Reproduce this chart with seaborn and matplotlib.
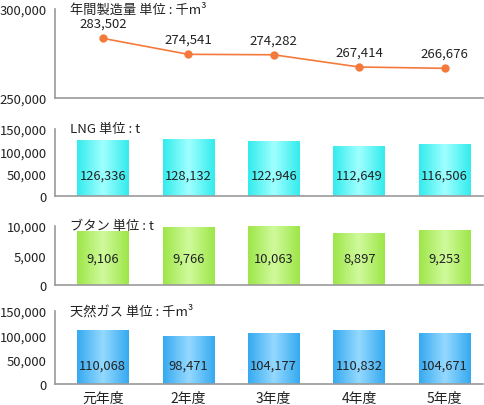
import numpy as np
import pandas as pd
import matplotlib
matplotlib.use("Agg")
import matplotlib.pyplot as plt
import matplotlib.ticker as mticker
from matplotlib.colors import LinearSegmentedColormap
import seaborn as sns

sns.set_style("white")
plt.rcParams["font.family"] = ["Noto Sans CJK JP", "DejaVu Sans"]

# ── DATA ──────────────────────────────────────────────────────
years      = ["元年度", "2年度", "3年度", "4年度", "5年度"]
production = [283502, 274541, 274282, 267414, 266676]
lng        = [126336, 128132, 122946, 112649, 116506]
butane     = [9106, 9766, 10063, 8897, 9253]
natgas     = [110068, 98471, 104177, 110832, 104671]

titles = ["年間製造量 単位 : 千m³", "LNG 単位 : t", "ブタン 単位 : t", "天然ガス 単位 : 千m³"]

SPINE = "#9a9a9a"
TEXT = "#222222"
XMIN, XMAX = -0.56, 4.45

fig = plt.figure(figsize=(4.85, 4.06), dpi=100)
L, W = 55 / 485, (483 - 55) / 485
def box(top, bot):
    return [L, 1 - bot / 406, W, (bot - top) / 406]

ax_line = fig.add_axes(box(10, 99))
ax_lng  = fig.add_axes(box(130, 197))
ax_but  = fig.add_axes(box(227, 286))
ax_gas  = fig.add_axes(box(312, 385))


def style_axis(ax, ylim, yticks, title):
    ax.set_xlim(XMIN, XMAX)
    ax.set_ylim(*ylim)
    ax.set_yticks(yticks)
    ax.yaxis.set_major_formatter(mticker.FuncFormatter(lambda v, p: f"{int(v):,}"))
    for s in ["top", "right"]:
        ax.spines[s].set_visible(False)
    for s in ["left", "bottom"]:
        ax.spines[s].set_color(SPINE)
        ax.spines[s].set_linewidth(1.2)
    ax.tick_params(axis="y", direction="out", length=4, color=SPINE, width=1,
                   labelsize=9.4, labelcolor=TEXT, pad=2)
    ax.set_xlabel("")
    ax.set_ylabel("")
    ax.text(15 / 428, 1.0, title, transform=ax.transAxes, ha="left", va="center",
            fontsize=9.5, color=TEXT)


# ── LINE PANEL ────────────────────────────────────────────────
df_prod = pd.DataFrame({"pos": np.arange(len(years)), "value": production})
sns.lineplot(data=df_prod, x="pos", y="value", ax=ax_line, color="#f47a3c",
             lw=1.2, marker="o", markersize=6, markeredgewidth=0, sort=False)
style_axis(ax_line, (250000, 300000), [250000, 300000], titles[0])
ax_line.set_xticks(np.arange(len(years)))
ax_line.set_xticklabels([])
ax_line.set_xticks([XMAX - 0.01], minor=True)
ax_line.tick_params(axis="x", which="major", direction="out", length=6,
                    color=SPINE, width=1)
ax_line.tick_params(axis="x", which="minor", direction="in", length=8,
                    color=SPINE, width=1)
for i, v in enumerate(production):
    ax_line.annotate(f"{v:,}", (i, v), xytext=(0, 6), textcoords="offset points",
                     ha="center", va="bottom", fontsize=9.5, color=TEXT)

# ── BAR PANELS ────────────────────────────────────────────────
bar_panels = [
    (ax_lng, lng, (0, 150000), [0, 50000, 100000, 150000], titles[1],
     ["#34ecee", "#a0ffff"], 0.31),
    (ax_but, butane, (0, 10000), [0, 5000, 10000], titles[2],
     ["#9ee64a", "#d0fa9c"], 0.46),
    (ax_gas, natgas, (0, 150000), [0, 50000, 100000, 150000], titles[3],
     ["#36aaf0", "#95d9ff"], 0.26),
]

for ax, vals, ylim, yt, title, cols, lab_y in bar_panels:
    sns.barplot(x=years, y=vals, ax=ax, color=cols[0], width=0.6, saturation=1)
    style_axis(ax, ylim, yt, title)
    cmap = LinearSegmentedColormap.from_list("g", [cols[0], cols[1], cols[0]])
    grad = np.linspace(0, 1, 64).reshape(1, -1)
    for p in ax.patches:
        x0, y0 = p.get_x(), p.get_y()
        w, h = p.get_width(), p.get_height()
        im = ax.imshow(grad, cmap=cmap, aspect="auto", extent=[x0, x0 + w, y0, y0 + h],
                       zorder=p.get_zorder(), interpolation="bicubic")
        im.set_clip_path(p)
        p.set_edgecolor("none")
    ax.set_xlim(XMIN, XMAX)
    ax.set_ylim(*ylim)
    for i, v in enumerate(vals):
        ax.text(i, lab_y, f"{v:,}", transform=ax.get_xaxis_transform(),
                ha="center", va="center", fontsize=9.3, color=TEXT, zorder=5)
    ax.set_xticks(np.arange(len(years)))
    ax.set_xticks([0.5, 1.5, 2.5, 3.5, XMAX - 0.01], minor=True)
    ax.tick_params(axis="x", which="major", length=0, labelsize=10,
                   labelcolor=TEXT, pad=5)
    ax.tick_params(axis="x", which="minor", direction="in", length=8,
                   color=SPINE, width=1)
    if ax is not ax_gas:
        ax.set_xticklabels([])

plt.savefig("out.png", dpi=100)
